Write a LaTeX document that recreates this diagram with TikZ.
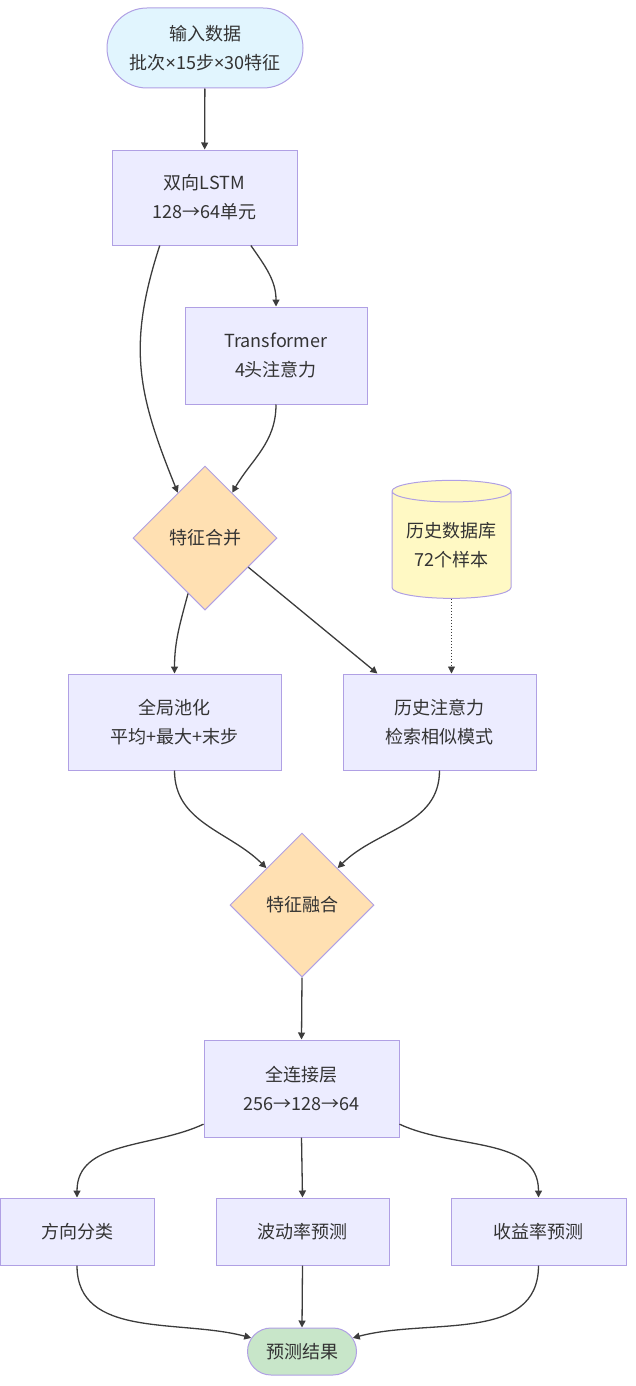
\documentclass[tikz,border=0pt]{standalone}
\usepackage{fontspec}
\setmainfont{Noto Sans CJK SC}
\newfontfamily\latinfont{Noto Sans}
\newcommand{\bytimes}{{\latinfont ×}}
\definecolor{boxfill}{RGB}{236, 236, 255}
\definecolor{boxline}{RGB}{176, 160, 228}
\definecolor{inputblue}{RGB}{225, 245, 254}
\definecolor{mergeorange}{RGB}{255, 224, 178}
\definecolor{dbyellow}{RGB}{255, 249, 196}
\definecolor{resgreen}{RGB}{200, 230, 201}
\definecolor{edgegray}{RGB}{60, 60, 60}
\definecolor{txtgray}{RGB}{51, 51, 51}
\usetikzlibrary{shapes.geometric, shapes.misc, arrows.meta, positioning}

\begin{document}
\begin{tikzpicture}[
  x=1pt, y=1pt,
  every node/.style={text=txtgray, font=\fontsize{18}{29}\selectfont, align=center, inner sep=0pt},
  layer/.style={draw=boxline, fill=boxfill, line width=1pt},
  term/.style={rounded rectangle, draw=boxline, line width=1pt},
  merge/.style={diamond, draw=boxline, fill=mergeorange, line width=1pt, minimum width=144, minimum height=144},
  store/.style={cylinder, shape border rotate=90, aspect=0.24, draw=boxline, fill=dbyellow, line width=1pt},
  flow/.style={draw=edgegray, line width=1.3pt, -{Triangle[length=7pt, width=7pt]}},
  lookup/.style={flow, line width=0.8pt, dash pattern=on 1.5pt off 1.5pt}
]
  \useasboundingbox (0,0) rectangle (636,-1386);

  % inputs and encoder
  \node[term, fill=inputblue, minimum width=196, minimum height=80] (in) at (205,-48) {输入数据\\批次\bytimes 15步\bytimes 30特征};
  \node[layer, minimum width=185, minimum height=95] (lstm) at (204.5,-197.5) {双向LSTM\\128→64单元};
  \node[layer, minimum width=182, minimum height=97] (trans) at (276,-355.5) {Transformer\\4头注意力};
  \node[merge] (concat) at (205,-538) {特征合并};
  \node[store, minimum width=119, minimum height=118] (db) at (451.5,-545) {历史数据库\\72个样本};

  % pooling and retrieval
  \node[layer, minimum width=213, minimum height=96] (pool) at (174.5,-722) {全局池化\\平均+最大+末步};
  \node[layer, minimum width=193, minimum height=96] (hist) at (439.5,-722) {历史注意力\\检索相似模式};
  \node[merge] (fuse) at (302,-905) {特征融合};
  \node[layer, minimum width=195, minimum height=97] (fc) at (301.5,-1088.5) {全连接层\\256→128→64};

  % heads
  \node[layer, minimum width=154, minimum height=67] (dir) at (77,-1231.5) {方向分类};
  \node[layer, minimum width=173, minimum height=67] (vol) at (302.5,-1231.5) {波动率预测};
  \node[layer, minimum width=175, minimum height=67] (ret) at (538.5,-1231.5) {收益率预测};
  \node[term, fill=resgreen, minimum width=109, minimum height=47] (res) at (302,-1351.5) {预测结果};

  \draw[flow] (in) -- (lstm);
  \draw[flow] (lstm.-46) to[out=-55, in=90] (trans.north);
  \draw[flow] (lstm.-133) to[out=-108, in=112, looseness=1.1] (concat.121);
  \draw[flow] (trans.south) to[out=-90, in=60] (concat.59);
  \draw[flow] (concat.-107) to[out=-105, in=90] (pool.north);
  \draw[flow] (concat.-34) -- (hist.142);
  \draw[lookup] (db.south) -- (db.south |- hist.north);
  \draw[flow] (pool.south) to[out=-90, in=135] (fuse.134);
  \draw[flow] (hist.south) to[out=-90, in=45] (fuse.46);
  \draw[flow] (fuse.south) -- (fc.north);
  \draw[flow] (fc.200) to[out=205, in=90] (dir.north);
  \draw[flow] (fc.south) -- (vol.north);
  \draw[flow] (fc.-20) to[out=-25, in=90] (ret.north);
  \draw[flow] (dir.south) to[out=-90, in=165] (res.165);
  \draw[flow] (vol.south) -- (res.north);
  \draw[flow] (ret.south) to[out=-90, in=15] (res.15);
\end{tikzpicture}
\end{document}
